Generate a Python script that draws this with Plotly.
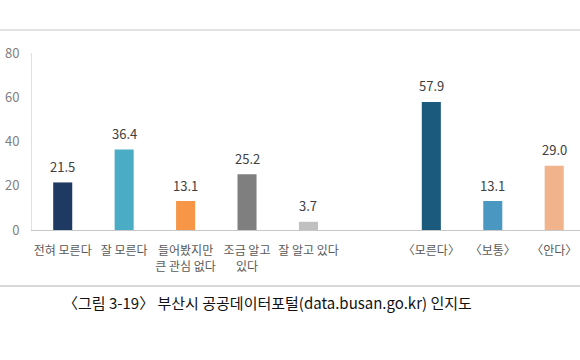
import plotly.graph_objects as go

categories = ["전혀 모른다", "잘 모른다", "들어봤지만<br>큰 관심 없다", "조금 알고<br>있다", "잘 알고 있다", " ", "〈모른다〉", "〈보통〉", "〈안다〉"]
values = [21.5, 36.4, 13.1, 25.2, 3.7, None, 57.9, 13.1, 29.0]
colors = ["#1e3a62", "#4bacc6", "#f79646", "#7f7f7f", "#c0c0c0", "#ffffff", "#1b5a7c", "#4a98c1", "#f0b38c"]
y_ticks = [0, 20, 40, 60, 80]
title = "〈그림 3-19〉 부산시 공공데이터포털(data.busan.go.kr) 인지도"

FONT = "Noto Sans CJK KR"

fig = go.Figure(go.Bar(
    x=categories,
    y=values,
    marker=dict(color=colors, line=dict(width=0)),
    width=0.31,
    hoverinfo="x+y",
))

label_annotations = [
    dict(x=c, y=v, xref="x", yref="y", text=f"{v:.1f}", showarrow=False,
         yanchor="middle", yshift=16,
         font=dict(family=FONT, size=13, color="#404040"))
    for c, v in zip(categories, values) if v is not None
]

fig.update_layout(
    width=580, height=360,
    margin=dict(l=32, r=0, t=53, b=130, autoexpand=False),
    paper_bgcolor="white", plot_bgcolor="white",
    showlegend=False,
    font=dict(family=FONT, color="#595959"),
    xaxis=dict(
        type="category", categoryorder="array", categoryarray=categories,
        range=[-0.5, 8.42], automargin=False,
        showline=True, linecolor="#c8c8c8", linewidth=1,
        showgrid=False, ticks="",
        tickfont=dict(family=FONT, size=12, color="#595959"),
        ticklabelstandoff=10,
    ),
    yaxis=dict(
        range=[0, 80], tickvals=y_ticks, automargin=False,
        showline=True, linecolor="#e0e0e0", linewidth=1,
        showgrid=False, zeroline=False, ticks="",
        tickfont=dict(family=FONT, size=13, color="#7f7f7f"),
        ticklabelstandoff=9,
    ),
    shapes=[
        dict(type="line", xref="paper", yref="paper", x0=-0.06, x1=1.0, y0=1.13, y1=1.13,
             line=dict(color="#e3e3e3", width=2)),
        dict(type="line", xref="paper", yref="paper", x0=-0.06, x1=1.0, y0=-0.316, y1=-0.316,
             line=dict(color="#d9d9d9", width=2)),
    ],
    annotations=label_annotations + [
        dict(text=title, xref="paper", yref="paper", x=0.429, y=-0.412,
             xanchor="center", yanchor="middle", showarrow=False,
             font=dict(family=FONT, size=15, color="#111111")),
    ],
)

fig.write_html("out.html", config={"displayModeBar": False},
               post_script="document.body.style.margin='0';")
